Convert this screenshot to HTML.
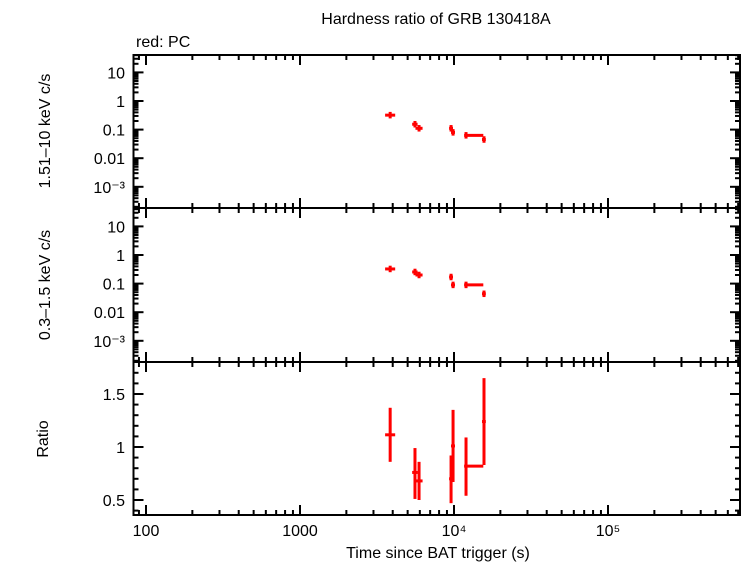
<!DOCTYPE html>
<html><head><meta charset="utf-8"><style>
body{margin:0;background:#fff;}
svg{display:block;font-family:"Liberation Sans",sans-serif;}
</style></head><body>
<svg id="c" width="742" height="566" xmlns="http://www.w3.org/2000/svg">
<text x="436" y="24" font-size="16" text-anchor="middle">Hardness ratio of GRB 130418A</text>
<text x="136" y="47" font-size="16">red: PC</text>
<text transform="translate(50,131) rotate(-90)" font-size="16" text-anchor="middle">1.51–10 keV c/s</text>
<text transform="translate(50,285) rotate(-90)" font-size="16" text-anchor="middle">0.3–1.5 keV c/s</text>
<text transform="translate(48,439) rotate(-90)" font-size="16" text-anchor="middle">Ratio</text>
<text x="438" y="558" font-size="16" text-anchor="middle">Time since BAT trigger (s)</text>
<g id="g"></g>
</svg>
<script>
const times=[3850,5580,5930,9570,9860,11970,15660];
const xErrLo=[3570,5350,5620,9290,9560,11630,15200];
const xErrHi=[4150,5800,6250,9850,10150,15500,16100];
const hardVals=[0.32,0.154,0.111,0.111,0.080,0.063,0.045];
const softVals=[0.325,0.255,0.20,0.17,0.09,0.09,0.044];
const ratioVals=[1.115,0.76,0.68,0.70,1.01,0.82,1.24];
const ratioLo=[0.86,0.51,0.50,0.47,0.67,0.54,0.83];
const ratioHi=[1.37,0.99,0.86,0.92,1.35,1.09,1.65];
const xTickLabels=["100","1000","10⁴","10⁵"];
const yLogTickLabels=["10","1","0.1","0.01","10⁻³"];
const ratioTickLabels=["1.5","1","0.5"];

const L=133.5,R=740,NS="http://www.w3.org/2000/svg";
const X=t=>146+154*(Math.log10(t)-2);
const panels=[{top:55,bot:208,one:101},{top:208,bot:362,one:255},{top:362,bot:515}];
const YL=(p,v)=>p.one-28.6*Math.log10(v);
const YR=v=>447-106*(v-1);
const g=document.getElementById('g');
function mk(tag,a,name){const e=document.createElementNS(NS,tag);for(const k in a)e.setAttribute(k,a[k]);


g.appendChild(e);return e;}
function line(x1,y1,x2,y2,c,w,name){return mk('line',{x1,y1,x2,y2,stroke:c,'stroke-width':w},name);}
function txt(x,y,s,name,anchor){const e=mk('text',{x,y,'font-size':16,'text-anchor':anchor||'end'},name);e.textContent=s;return e;}

panels.forEach((p,i)=>{
 mk('rect',{x:L,y:p.top,width:R-L,height:p.bot-p.top,fill:'none',stroke:'#000','stroke-width':2},'panel-frame');
 for(let d=1;d<=5;d++)for(let m=1;m<10;m++){const t=m*Math.pow(10,d);const x=X(t);if(x<L||x>R)continue;
  const len=m===1?10:5;
  line(x,p.bot,x,p.bot-len,'#000',2,'x-tick');line(x,p.top,x,p.top+len,'#000',2,'x-tick');}
 if(i<2){for(let d=-4;d<=1;d++)for(let m=1;m<10;m++){const v=m*Math.pow(10,d);const y=YL(p,v);if(y<p.top||y>p.bot)continue;
   const len=m===1?10:5;line(L,y,L+len,y,'#000',2,'y-tick');line(R,y,R-len,y,'#000',2,'y-tick');}
  yLogTickLabels.forEach((s,k)=>{const y=YL(p,Math.pow(10,1-k));txt(125,y+6,s,'y-tick-label');});
 }else{
  for(let v=0.4;v<=1.8;v+=0.1){const y=YR(v);if(y<p.top||y>p.bot)continue;const major=Math.abs(v*2-Math.round(v*2))<1e-6;
   line(L,y,L+(major?10:5),y,'#000',2,'y-tick');line(R,y,R-(major?10:5),y,'#000',2,'y-tick');}
  ratioTickLabels.forEach((s,k)=>txt(125,YR(1.5-0.5*k)+6,s,'y-tick-label'));
 }
});
xTickLabels.forEach((s,k)=>txt(X(Math.pow(10,k+2)),536,s,'x-tick-label','middle'));

const red='#f00';
times.forEach((t,i)=>{
 const x=X(t),x1=X(xErrLo[i]),x2=X(xErrHi[i]);
 [[panels[0],hardVals[i]],[panels[1],softVals[i]]].forEach(([p,v],j)=>{
  const y=YL(p,v);
  line(x1,y,x2,y,red,3,j?'soft-point-xerr':'hard-point-xerr');
  line(x,YL(p,v*1.3),x,YL(p,v*0.77),red,3,j?'soft-point-yerr':'hard-point-yerr');
 });
 const y=YR(ratioVals[i]);
 line(x1,y,x2,y,red,3,'ratio-point-xerr');
 line(x,YR(ratioHi[i]),x,YR(ratioLo[i]),red,3,'ratio-point-yerr');
});
</script>
</body></html>
